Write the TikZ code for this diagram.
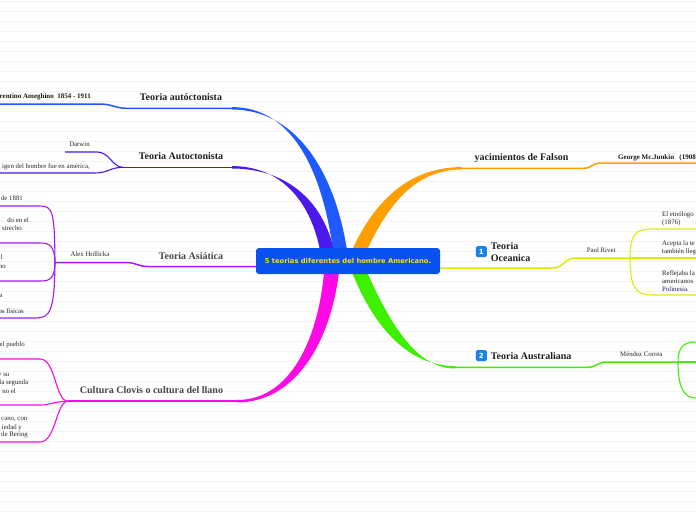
\documentclass[tikz,border=0pt]{standalone}
\usepackage{fontspec}
\setmainfont{Liberation Serif}
\newfontfamily\rootfont{DejaVu Sans}
\usetikzlibrary{calc}

\definecolor{ruleline}{RGB}{243,243,243}
\definecolor{rootblue}{RGB}{10,82,240}
\definecolor{rootyellow}{RGB}{255,222,0}
\definecolor{brblue}{RGB}{30,90,255}
\definecolor{brindigo}{RGB}{75,25,235}
\definecolor{brpurple}{RGB}{165,25,240}
\definecolor{brmagenta}{RGB}{255,10,230}
\definecolor{brorange}{RGB}{255,160,0}
\definecolor{brlime}{RGB}{215,240,0}
\definecolor{brgreen}{RGB}{60,240,0}
\definecolor{badgeblue}{RGB}{25,130,230}

\tikzset{
  rule/.style={draw=ruleline, line width=0.6pt},
  stem/.style={line width=1.5pt},
  twig/.style={line width=1.1pt},
  topic/.style={inner sep=0pt, text=black!88, font=\bfseries\fontsize{10}{12}\selectfont},
  leaf/.style={inner sep=0pt, text=black!85, font=\fontsize{6.8}{8.4}\selectfont, align=left},
  leafb/.style={inner sep=0pt, text=black!90, font=\bfseries\fontsize{7}{8}\selectfont},
  badge/.style={fill=badgeblue, rounded corners=1.5pt, minimum size=11pt, inner sep=0pt,
    text=white, font=\rootfont\bfseries\fontsize{7}{7}\selectfont},
  root/.style={fill=rootblue, rounded corners=3pt, minimum width=184pt, minimum height=26pt,
    inner sep=0pt, text=rootyellow, font=\rootfont\bfseries\fontsize{6.75}{8}\selectfont},
}

\begin{document}
\begin{tikzpicture}[x=1pt,y=-1pt]
\useasboundingbox (0,0) rectangle (696,520);
\clip (0,0) rectangle (696,520);
% ruled paper
\fill[white] (0,0) rectangle (696,520);
\foreach \k in {0,...,51}
  \draw[rule] (0,1.3+10*\k) -- (696,1.3+10*\k);

% junctions
\coordinate (autEnd) at (232,108.3);
\coordinate (autJ) at (127,108.3);
\coordinate (autoEnd) at (232,167.3);
\coordinate (autoJ) at (123,167.3);
\coordinate (asiJ) at (148,266.5);
\coordinate (alexJ) at (55,262.5);
\coordinate (cloEnd) at (237,401.2);
\coordinate (cloJ) at (68,401.2);
\coordinate (falEnd) at (462,168.3);
\coordinate (falJ) at (583,168.3);
\coordinate (oceJ) at (553,268);
\coordinate (rivJ) at (630,258);
\coordinate (ausEnd) at (455,367.3);
\coordinate (ausJ) at (587,367.3);
\coordinate (menJ) at (678,362);

% thick branches
\fill[brindigo] (autoEnd) ++(0,-1.2) .. controls (280,166) and (310,200) .. (320,250)
  -- (334,250) .. controls (322,198) and (284,168.5) .. (232,168.5) -- cycle;
\fill[brblue] (autEnd) ++(0,-1.2) .. controls (292,107) and (322,170) .. (333,250)
  -- (347,250) .. controls (334,168) and (294,109.5) .. (232,109.5) -- cycle;
\fill[brmagenta] (cloEnd) ++(0,-1.2) .. controls (290,400) and (318,340) .. (324,272)
  -- (339,272) .. controls (330,345) and (294,402.4) .. (237,402.4) -- cycle;
\fill[brorange] (falEnd) ++(0,-1.2) .. controls (410,167) and (375,200) .. (352,250)
  -- (367,250) .. controls (388,205) and (415,169.5) .. (462,169.5) -- cycle;
\fill[brgreen] (ausEnd) ++(0,-1.2) .. controls (410,366) and (375,330) .. (352,272)
  -- (367,272) .. controls (392,328) and (418,368.5) .. (455,368.5) -- cycle;

% root
\node[root] (root) at (348,261) {5 teorias diferentes del hombre Americano.};

% Teoria autoctonista
\node[topic, anchor=base] (autT) at (181,100) {Teoria autóctonista};
\node[leafb, anchor=base east] (amegT) at (91,98.3) {Florentino Ameghino\ \ 1854 - 1911};
\draw[brblue, stem] (autEnd) -- (autJ) .. controls (115,108.3) and (112,104) .. (100,104) -- (0,104);

% Teoria Autoctonista
\node[topic, anchor=base] (autoT) at (181,159) {Teoria Autoctonista};
\node[leaf, anchor=base] (darT) at (79.5,146.7) {Darwin};
\node[leaf, anchor=base east] (origT) at (90,168.3) {igen del hombre fue en américa,};
\draw[brindigo, stem] (autoEnd) -- (autoJ);
\draw[brindigo, twig] (autoJ) .. controls (112,167.3) and (110,152) .. (97,152) -- (65,152);
\draw[brindigo, twig] (autoJ) .. controls (110,167.3) and (108,173) .. (95,173) -- (0,173);

% Teoria Asiatica
\node[topic, text=black!72, anchor=base] (asiT) at (191,259) {Teoria Asiática};
\node[leaf, anchor=base] (alexT) at (90,256) {Alex Hrdlicka};
\draw[brpurple, stem] (root.west |- asiJ) -- (asiJ) .. controls (138,266.5) and (136,262.5) .. (126,262.5) -- (alexJ);
\draw[brpurple, twig] (alexJ) .. controls (54.5,212) and (53,206) .. (40,206) -- (0,206);
\draw[brpurple, twig] (alexJ) .. controls (54.5,246) and (50,243) .. (40,243) -- (0,243);
\draw[brpurple, twig] (alexJ) .. controls (54.5,279) and (50,281) .. (40,281) -- (0,281);
\draw[brpurple, twig] (alexJ) .. controls (54.5,311) and (50,318) .. (36,318) -- (0,318);
\node[leaf, anchor=base east] (asi1) at (23,200.5) {de 1881};
\node[leaf, anchor=base east] (asi2) at (29,222) {do en el};
\node[leaf, anchor=base east] (asi3) at (22,230.5) {strecho};
\node[leaf, anchor=base east] (asi4) at (3,259) {l};
\node[leaf, anchor=base east] (asi5) at (6,268) {ho};
\node[leaf, anchor=base east] (asi6) at (2.5,297) {a};
\node[leaf, anchor=base east] (asi7) at (24,313.5) {as físicas};

% Cultura Clovis
\node[topic, text=black!72, anchor=base] (cloT) at (151.5,393.3) {Cultura Clovis o cultura del llano};
\draw[brmagenta, stem] (cloEnd) -- (cloJ);
\draw[brmagenta, twig] (cloJ) .. controls (55,401.2) and (56,359) .. (40,359) -- (0,359);
\draw[brmagenta, twig] (cloJ) .. controls (55,401.2) and (50,405) .. (40,405) -- (0,405);
\draw[brmagenta, twig] (cloJ) .. controls (56,401.2) and (56,442) .. (40,442) -- (0,442);
\node[leaf, anchor=base east] (clo1) at (25,346) {el pueblo};
\node[leaf, anchor=base east] (clo2) at (9.5,376) {y su};
\node[leaf, anchor=base east] (clo3) at (28.5,384.5) {la segunda};
\node[leaf, anchor=base east] (clo4) at (16,393) {no el};
\node[leaf, anchor=base east] (clo5) at (27.5,420.5) {cano, con};
\node[leaf, anchor=base east] (clo6) at (22,429) {iedad y};
\node[leaf, anchor=base east] (clo7) at (28,436.5) {de Bering};

% yacimientos de Falson
\node[topic, anchor=base] (falT) at (521.5,160) {yacimientos de Falson};
\node[leafb, anchor=base west] (georT) at (618,159.5) {George Mc.Junkin\ \ \ (1908};
\draw[brorange, stem] (falEnd) -- (falJ) .. controls (592,168.3) and (592,163) .. (601,163) -- (696,163);

% Teoria Oceanica
\node[badge] (b1) at (481.3,251.7) {1};
\node[topic, anchor=north west, align=left] (oceT) at (490.7,242.2) {Teoria\\Oceanica};
\node[leaf, anchor=base west] (rivT) at (586.7,252.3) {Paul Rivet};
\draw[brlime, stem] (root.east |- oceJ) -- (oceJ) .. controls (564,268) and (564,258) .. (576,258) -- (rivJ);
\draw[brlime, twig] (rivJ) -- (696,258);
\draw[brlime, twig] (rivJ) .. controls (630,234) and (636,229) .. (652,229) -- (696,229);
\draw[brlime, twig] (rivJ) .. controls (630,288) and (636,295) .. (652,295) -- (696,295);
\node[leaf, anchor=base west] (oce1) at (662,216) {El etnólogo};
\node[leaf, anchor=base west] (oce1b) at (662,224.5) {(1876)};
\node[leaf, anchor=base west] (oce2) at (662,245.5) {Acepta la te};
\node[leaf, anchor=base west] (oce2b) at (662,253.5) {también lleg};
\node[leaf, anchor=base west] (oce3) at (662,275) {Reflejaba la};
\node[leaf, anchor=base west] (oce3b) at (662,283) {americanos};
\node[leaf, anchor=base west] (oce3c) at (662,291) {Polinesia.};

% Teoria Australiana
\node[badge] (b2) at (481.3,355.5) {2};
\node[topic, anchor=base west] (ausT) at (490.7,359) {Teoria Australiana};
\node[leaf, anchor=base west] (menT) at (620,356.7) {Méndez Correa};
\draw[brgreen, stem] (ausEnd) -- (ausJ) .. controls (597,367.3) and (597,362) .. (607,362) -- (menJ);
\draw[brgreen, twig] (menJ) -- (696,362);
\draw[brgreen, twig] (menJ) .. controls (678,348) and (683,342) .. (696,342);
\draw[brgreen, twig] (menJ) .. controls (678,388) and (684,398) .. (696,398);

\end{tikzpicture}
\end{document}
